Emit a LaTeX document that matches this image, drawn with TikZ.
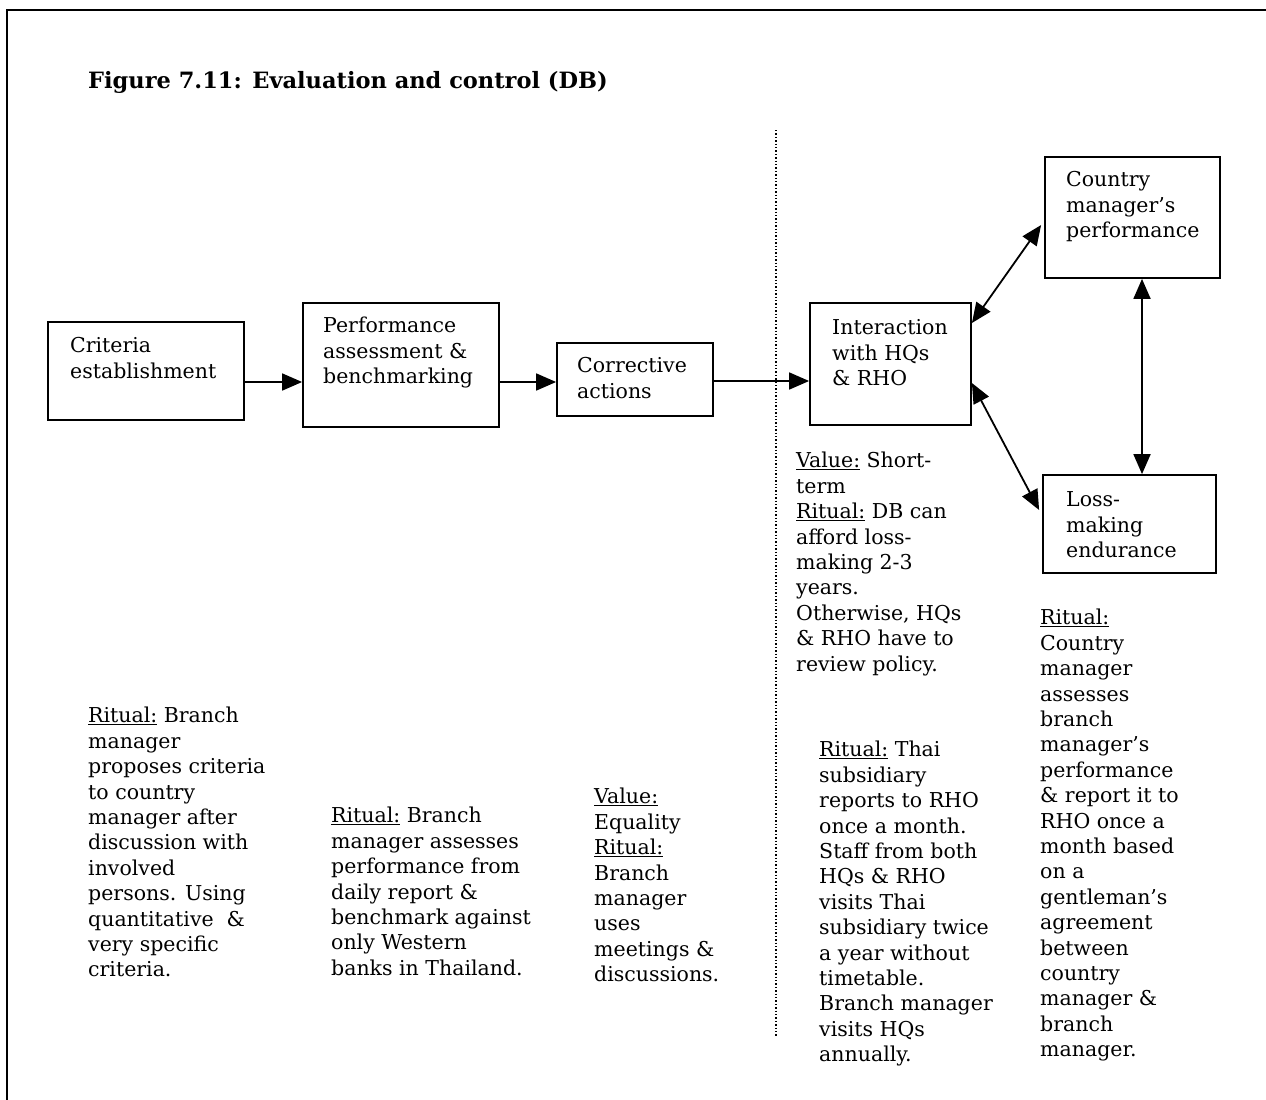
\documentclass[tikz,border=0pt]{standalone}
\usepackage{fontspec}
\setmainfont{DejaVu Serif}
\usetikzlibrary{arrows.meta}
\newcommand{\bodyfont}{\fontsize{20.5}{25.4}\selectfont}
\newcommand{\ul}[1]{\underline{#1}}
\begin{document}
\begin{tikzpicture}[x=1pt,y=-1pt,
  boxshape/.style={draw, line width=1.8pt, inner sep=0pt},
  txt/.style={anchor=north west, inner sep=0pt, align=left, font=\bodyfont},
  conn/.style={line width=1.8pt, -{Triangle[length=20pt,width=17pt]}},
  bothconn/.style={line width=1.8pt, {Triangle[length=20pt,width=17pt]}-{Triangle[length=20pt,width=17pt]}}]
\useasboundingbox (0,0) rectangle (1266,1100);
% page frame
\draw[line width=2pt] (7,1100) -- (7,10) -- (1266,10);
% title
\node[anchor=base west, inner sep=0pt, font=\fontsize{22.5}{27}\selectfont\bfseries] (title) at (88,88)
  {Figure 7.11: Evaluation and control (DB)};
% separator
\draw[line width=1.4pt, dotted] (776,130) -- (776,1036);

% boxes
\node[boxshape, minimum width=196pt, minimum height=98pt] (crit) at (146,371) {};
\node[boxshape, minimum width=196pt, minimum height=124pt] (perf) at (401,365) {};
\node[boxshape, minimum width=156pt, minimum height=73pt] (corr) at (635,379.5) {};
\node[boxshape, minimum width=161pt, minimum height=122pt] (inter) at (890.5,364) {};
\node[boxshape, minimum width=175pt, minimum height=121pt] (country) at (1132.5,217.5) {};
\node[boxshape, minimum width=173pt, minimum height=98pt] (loss) at (1129.5,524) {};

% box labels
\node[txt] (critT) at (70,335) {\strut Criteria\\establishment};
\node[txt] (perfT) at (323,315) {\strut Performance\\assessment \&\\benchmarking};
\node[txt] (corrT) at (577,355) {\strut Corrective\\actions};
\node[txt] (interT) at (832,317) {\strut Interaction\\with HQs\\\& RHO};
\node[txt] (countryT) at (1066,169) {\strut Country\\manager’s\\performance};
\node[txt] (lossT) at (1066,489) {\strut Loss-\\making\\endurance};

% connectors
\coordinate (rowA) at (0,382);
\coordinate (rowB) at (0,381);
\coordinate (upA) at (0,323);
\coordinate (upB) at (0,225);
\coordinate (dnA) at (0,383);
\coordinate (dnB) at (0,510);
\coordinate (colV) at (1142,0);
\draw[conn] (crit.east |- rowA) -- (perf.west |- rowA);
\draw[conn] (perf.east |- rowA) -- (corr.west |- rowA);
\draw[conn] (corr.east |- rowB) -- (inter.west |- rowB);
\draw[bothconn] (inter.east |- upA) -- ([xshift=-3pt]country.west |- upB);
\draw[bothconn] (inter.east |- dnA) -- ([xshift=-3pt]loss.west |- dnB);
\draw[bothconn] (country.south -| colV) -- (loss.north -| colV);

% notes
\node[txt] (n1) at (88,705) {\strut\ul{Ritual:} Branch\\manager\\proposes criteria\\to country\\manager after\\discussion with\\involved\\persons. Using\\quantitative~ \&\\very specific\\criteria.};
\node[txt] (n2) at (331,805) {\strut\ul{Ritual:} Branch\\manager assesses\\performance from\\daily report \&\\benchmark against\\only Western\\banks in Thailand.};
\node[txt] (n3) at (594,786) {\strut\ul{Value:}\\Equality\\\ul{Ritual:}\\Branch\\manager\\uses\\meetings \&\\discussions.};
\node[txt] (n4) at (796,450) {\strut\ul{Value:} Short-\\term\\\ul{Ritual:} DB can\\afford loss-\\making 2-3\\years.\\Otherwise, HQs\\\& RHO have to\\review policy.};
\node[txt] (n5) at (819,739) {\strut\ul{Ritual:} Thai\\subsidiary\\reports to RHO\\once a month.\\Staff from both\\HQs \& RHO\\visits Thai\\subsidiary twice\\a year without\\timetable.\\Branch manager\\visits HQs\\annually.};
\node[txt] (n6) at (1040,607) {\strut\ul{Ritual:}\\Country\\manager\\assesses\\branch\\manager’s\\performance\\\& report it to\\RHO once a\\month based\\on a\\gentleman’s\\agreement\\between\\country\\manager \&\\branch\\manager.};
\end{tikzpicture}
\end{document}
